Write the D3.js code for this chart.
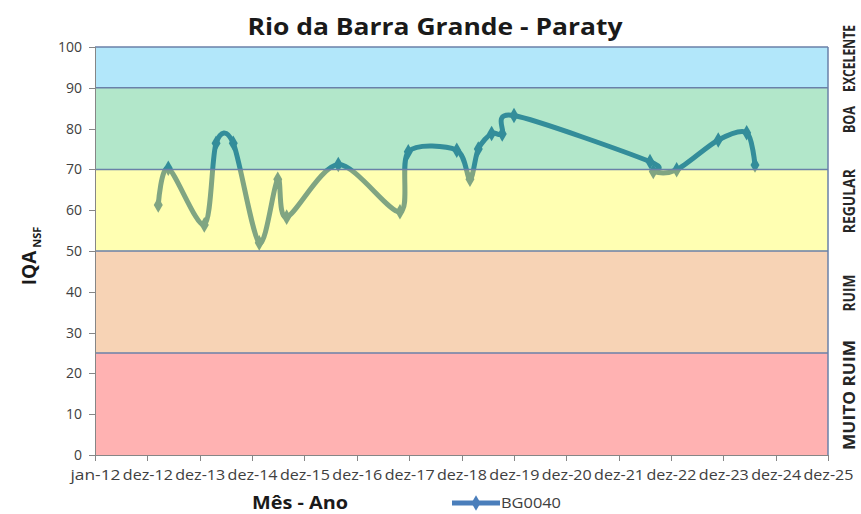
<!DOCTYPE html>
<meta charset="utf-8">
<style>
  body {
    margin: 0;
    font-family: 'Open Sans', sans-serif;
    background: #fff;
  }

  .axis path,
  .axis line {
    fill: none;
    stroke: #868686;
    stroke-width: 1;
    shape-rendering: crispEdges;
  }

  .axis text {
    font-family: 'Open Sans', sans-serif;
    font-size: 14px;
    fill: #404040;
  }
</style>

<body>
  <div id="chart"></div>
  <script src="https://d3js.org/d3.v7.min.js"></script>

  <script>
    // sampling dates and IQA values (station BG0040)
    var sampleDates = ["2013-03-17", "2013-05-26", "2014-02-01", "2014-04-24", "2014-08-22",
      "2015-02-19", "2015-06-28", "2015-08-29", "2016-08-23", "2017-10-27", "2017-12-24",
      "2018-11-27", "2019-02-27", "2019-04-26", "2019-07-28", "2019-10-10", "2019-12-31",
      "2022-08-05", "2022-08-28", "2023-02-07", "2023-11-24", "2024-06-09", "2024-08-06"
    ];
    var iqaValues = [61.3, 70.3, 56.4, 76.4, 76.4,
      52.0, 67.6, 58.3, 71.2, 59.6, 74.3,
      74.7, 67.6, 75.0, 78.8, 78.7, 83.2,
      71.9, 69.5, 69.9, 77.2, 79.0, 71.1
    ];
    var seriesName = "BG0040";

    // quality classes (lower limit -> upper limit)
    var classNames = ["MUITO RUIM", "RUIM", "REGULAR", "BOA", "EXCELENTE"];
    var classLimits = [0, 25, 50, 70, 90, 100];
    var classColors = ["#ff0000", "#e46c0a", "#ffff00", "#00b050", "#00b0f0"];

    var yTicks = [0, 10, 20, 30, 40, 50, 60, 70, 80, 90, 100];

    var margin = { top: 47, right: 33, bottom: 59, left: 95 },
      W = 861, H = 514,
      width = W - margin.left - margin.right,
      height = H - margin.top - margin.bottom;

    var svg = d3.select("#chart").append("svg")
      .attr("width", W)
      .attr("height", H);

    var g = svg.append("g")
      .attr("transform", "translate(" + margin.left + "," + margin.top + ")");

    // portuguese month names for the axis
    var pt = d3.timeFormatLocale({
      dateTime: "%d/%m/%Y %H:%M:%S", date: "%d/%m/%Y", time: "%H:%M:%S",
      periods: ["AM", "PM"],
      days: ["domingo", "segunda", "terça", "quarta", "quinta", "sexta", "sábado"],
      shortDays: ["dom", "seg", "ter", "qua", "qui", "sex", "sáb"],
      months: ["janeiro", "fevereiro", "março", "abril", "maio", "junho", "julho", "agosto",
        "setembro", "outubro", "novembro", "dezembro"],
      shortMonths: ["jan", "fev", "mar", "abr", "mai", "jun", "jul", "ago", "set", "out", "nov", "dez"]
    });
    var fmt = pt.format("%b-%y");

    // excel style axis: start 1 jan 2012, major unit 365 days
    var start = new Date(2012, 0, 1);
    var xTicks = d3.range(15).map(function(i) { return d3.timeDay.offset(start, i * 365); });

    var x = d3.scaleTime()
      .domain([start, xTicks[xTicks.length - 1]])
      .range([0, width]);
    var y = d3.scaleLinear()
      .domain([0, 100])
      .range([height, 0]);

    var parse = d3.timeParse("%Y-%m-%d");
    var data = sampleDates.map(function(d, i) {
      return { date: parse(d), value: iqaValues[i] };
    });

    var lineColor = "#4a7ebb";

    // the series line (drawn below the translucent bands)
    var line = d3.line()
      .x(function(d) { return x(d.date); })
      .y(function(d) { return y(d.value); })
      .curve(d3.curveCardinal.tension(0.1));

    g.append("path")
      .datum(data)
      .attr("d", line)
      .style("fill", "none")
      .style("stroke", lineColor)
      .style("stroke-width", 5)
      .style("stroke-linejoin", "round");

    var diamond = d3.symbol().type(d3.symbolDiamond).size(70);
    g.selectAll(".pt")
      .data(data)
      .enter()
      .append("path")
      .attr("class", "pt")
      .attr("d", diamond)
      .attr("transform", function(d) { return "translate(" + x(d.date) + "," + y(d.value) + ")"; })
      .style("fill", lineColor);

    // translucent quality bands on top
    var bands = classNames.map(function(n, i) {
      return { name: n, lo: classLimits[i], hi: classLimits[i + 1], color: classColors[i] };
    });

    g.selectAll(".band")
      .data(bands)
      .enter()
      .append("rect")
      .attr("class", "band")
      .attr("x", 0)
      .attr("width", width)
      .attr("y", function(d) { return y(d.hi); })
      .attr("height", function(d) { return y(d.lo) - y(d.hi); })
      .style("fill", function(d) { return d.color; })
      .style("fill-opacity", 0.3);

    // band borders
    g.selectAll(".bandline")
      .data(classLimits.slice(1))
      .enter()
      .append("line")
      .attr("x1", 0)
      .attr("x2", width)
      .attr("y1", function(d) { return y(d); })
      .attr("y2", function(d) { return y(d); })
      .style("stroke", "#6a81a8")
      .style("stroke-width", 1.5);
    g.append("line")
      .attr("x1", width).attr("x2", width)
      .attr("y1", 0).attr("y2", height)
      .style("stroke", "#6a81a8")
      .style("stroke-width", 1.5);

    // axes
    g.append("g")
      .attr("class", "axis")
      .call(d3.axisLeft(y).tickValues(yTicks).tickSize(6).tickPadding(7));

    var xAxis = g.append("g")
      .attr("class", "axis")
      .attr("transform", "translate(0," + height + ")")
      .call(d3.axisBottom(x).tickValues(xTicks).tickFormat(fmt).tickSize(6).tickPadding(9));
    xAxis.selectAll("text")
      .attr("textLength", 50)
      .attr("lengthAdjust", "spacingAndGlyphs");

    // quality class labels at the right (condensed like calibri)
    var labelLen = { "MUITO RUIM": 110, "RUIM": 37, "REGULAR": 64, "BOA": 27, "EXCELENTE": 67 };
    svg.selectAll(".cls")
      .data(bands)
      .enter()
      .append("text")
      .attr("class", "cls")
      .attr("transform", function(d) {
        return "translate(855," + (margin.top + y((d.lo + d.hi) / 2) - 9) + ") rotate(-90)";
      })
      .attr("text-anchor", "middle")
      .attr("textLength", function(d) { return labelLen[d.name]; })
      .attr("lengthAdjust", "spacingAndGlyphs")
      .style("font-size", "16px")
      .style("font-weight", "bold")
      .style("fill", "#262626")
      .text(function(d) { return d.name; });

    // title
    svg.append("text")
      .attr("x", 435)
      .attr("y", 35)
      .attr("text-anchor", "middle")
      .attr("textLength", 375)
      .attr("lengthAdjust", "spacingAndGlyphs")
      .style("font-size", "24px")
      .style("font-weight", "bold")
      .style("fill", "#1a1a1a")
      .text("Rio da Barra Grande - Paraty");

    // y label with subscript
    var yl = svg.append("text")
      .attr("transform", "translate(36,256) rotate(-90)")
      .attr("text-anchor", "middle")
      .style("font-weight", "bold")
      .style("fill", "#1a1a1a");
    yl.append("tspan").style("font-size", "19px").text("IQA");
    yl.append("tspan").attr("dx", 3).attr("dy", 5).style("font-size", "11px").text("NSF");

    // x label
    svg.append("text")
      .attr("x", 300)
      .attr("y", 509)
      .attr("text-anchor", "middle")
      .attr("textLength", 96)
      .attr("lengthAdjust", "spacingAndGlyphs")
      .style("font-size", "17px")
      .style("font-weight", "bold")
      .style("fill", "#1a1a1a")
      .text("Mês - Ano");

    // legend
    var leg = svg.append("g").attr("transform", "translate(452,503)");
    leg.append("line")
      .attr("x1", 0).attr("x2", 48)
      .style("stroke", lineColor)
      .style("stroke-width", 5);
    leg.append("path")
      .attr("d", diamond)
      .attr("transform", "translate(24,0)")
      .style("fill", lineColor);
    leg.append("text")
      .attr("x", 49)
      .attr("y", 5)
      .attr("textLength", 60)
      .attr("lengthAdjust", "spacingAndGlyphs")
      .style("font-size", "14px")
      .style("fill", "#404040")
      .text(seriesName);
  </script>
</body>
